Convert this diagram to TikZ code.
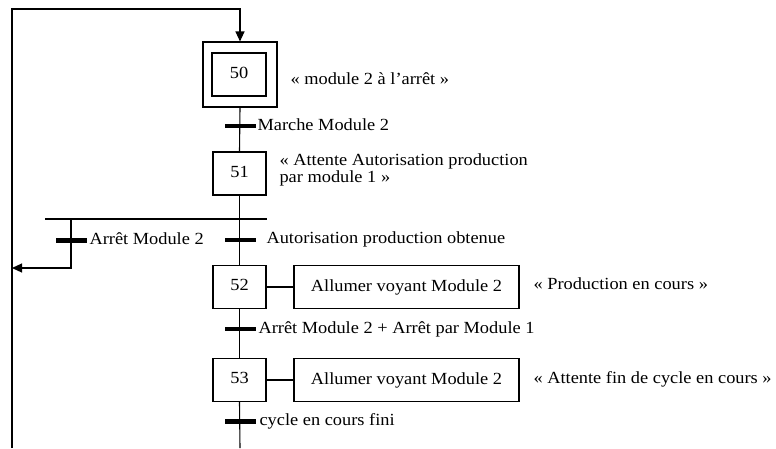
\documentclass[tikz,border=0pt]{standalone}
\usepackage{fontspec}
\setmainfont{Liberation Serif}[FakeStretch=1.08]
\usetikzlibrary{arrows.meta}
\begin{document}
\begin{tikzpicture}[x=1pt,y=-1pt,line width=1.1pt,
  every node/.style={font=\fontsize{17}{18}\selectfont},
  stepbox/.style={draw,minimum width=53pt,minimum height=43pt,inner sep=0pt,text depth=4pt},
  initbox/.style={draw,minimum width=74pt,minimum height=65pt,inner sep=0pt},
  actbox/.style={draw,minimum width=225pt,minimum height=43pt,inner sep=0pt},
  trbar/.style={fill=black,draw=none,minimum width=31pt,minimum height=4.2pt,inner sep=0pt,outer sep=0pt},
  lbl/.style={anchor=base west,inner sep=0pt},
  tip/.style={-{Triangle[length=10pt,width=9pt]}}]
\useasboundingbox (0,0) rectangle (776,448);

% steps and actions
\node[initbox] (s50o) at (240,74.5) {};
\node[stepbox,minimum width=54pt] (s50) at (239,74.5) {50};
\node[stepbox] (s51) at (239.5,173.5) {51};
\node[stepbox] (s52) at (239.5,287) {52};
\node[actbox]  (a52) at (406.5,287) {Allumer voyant Module 2};
\node[stepbox] (s53) at (239.5,380) {53};
\node[actbox]  (a53) at (406.5,380) {Allumer voyant Module 2};

% free ends of the links
\coordinate (lb) at (12,448);
\coordinate (lt) at (12,9);
\coordinate (bot) at (240,448);
\coordinate (dl) at (45,219);
\coordinate (dr) at (267,219);
\coordinate (bj) at (71,219);
\coordinate (bk) at (71,268);
\coordinate (ret) at (12,268);

% links
\draw[tip] (lb) -- (lt) -- (lt -| s50o.north) -- (s50o.north);
\draw (s50o.south) -- (s51.north);
\draw (s51.south) -- (s52.north);
\draw (dl) -- (dr);
\draw[tip] (bj) -- (bk) -- (ret);
\draw (s52.east) -- (s52.east -| a52.west);
\draw (s52.south) -- (s53.north);
\draw (s53.east) -- (s53.east -| a53.west);
\draw (s53.south) -- (bot);

% transitions
\node[trbar] (t1) at (240.5,126) {};
\node[trbar] (t2) at (71.5,240.5) {};
\node[trbar] (t3) at (240,240) {};
\node[trbar] (t4) at (240,329) {};
\node[trbar] (t5) at (240,421.5) {};

% receptivities
\node[lbl] (r1) at (257,130.5) {Marche Module 2};
\node[lbl] (r2) at (89,244) {Arrêt Module 2};
\node[lbl] (r3) at (266,243.5) {Autorisation production obtenue};
\node[lbl] (r4) at (258,333) {Arrêt Module 2 + Arrêt par Module 1};
\node[lbl] (r5) at (259,425.5) {cycle en cours fini};

% comments beside the steps
\node[lbl] (c50) at (290,84) {« module 2 à l’arrêt »};
\node[lbl] (c51a) at (279,165.5) {« Attente Autorisation production};
\node[lbl] (c51b) at (279,182.5) {par module 1 »};
\node[lbl] (c52) at (533,289.5) {« Production en cours »};
\node[lbl] (c53) at (533,383) {« Attente fin de cycle en cours »};
\end{tikzpicture}
\end{document}
